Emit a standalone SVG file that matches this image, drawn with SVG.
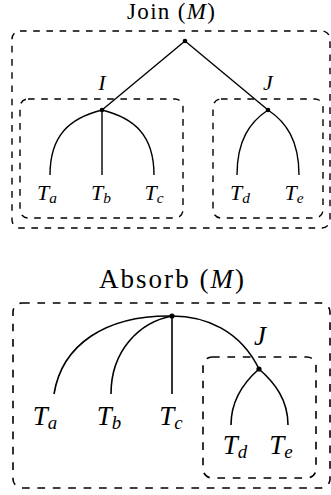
<svg xmlns="http://www.w3.org/2000/svg" width="331" height="495" viewBox="0 0 331 495">
<style>
.box1{fill:none;stroke:#000;stroke-width:1.4;stroke-dasharray:6.6 6.6}
.box2{fill:none;stroke:#000;stroke-width:1.6;stroke-dasharray:7.7 7.7}
.e1{fill:none;stroke:#000;stroke-width:1.4}
.e2{fill:none;stroke:#000;stroke-width:1.6}
.dot{fill:#000}
text{font-family:'Liberation Serif','Times New Roman',Times,'DejaVu Serif','Noto Serif',serif;fill:#000}
.it{font-style:italic;text-anchor:middle}
.sub{font-size:70%}
</style>
<g id="join">
  <text x="171" y="19" font-size="23" text-anchor="middle" textLength="88" lengthAdjust="spacing">Join (<tspan font-style="italic">M</tspan>)</text>
  <g id="join-M"><rect class="box1" x="12" y="31" width="318" height="197" rx="8"/></g>
  <g id="join-I-box"><rect class="box1" x="20" y="99" width="163" height="119" rx="8"/></g>
  <g id="join-J-box"><rect class="box1" x="213" y="99" width="110" height="119" rx="8"/></g>
  <g id="join-edges">
    <path class="e1" d="M185,41 L102,110"/>
    <path class="e1" d="M185,41 L268,110"/>
    <path class="e1" d="M102,110 C70,118 50,135 50,175"/>
    <path class="e1" d="M102,110 L102,175"/>
    <path class="e1" d="M102,110 C134,118 154,135 154,175"/>
    <path class="e1" d="M268,110 C250,122 237,140 237,175"/>
    <path class="e1" d="M268,110 C286,122 299,140 299,175"/>
  </g>
  <g id="join-root"><circle class="dot" cx="185" cy="41" r="2.3"/></g>
  <g id="join-I"><circle class="dot" cx="102" cy="110" r="2.3"/><text class="it" x="102" y="90" font-size="22">I</text></g>
  <g id="join-J"><circle class="dot" cx="268" cy="110" r="2.3"/><text class="it" x="268" y="90" font-size="22">J</text></g>
  <g id="join-Ta"><text class="it" x="47" y="200" font-size="22">T<tspan class="sub" dy="3">a</tspan></text></g>
  <g id="join-Tb"><text class="it" x="101" y="200" font-size="22">T<tspan class="sub" dy="3">b</tspan></text></g>
  <g id="join-Tc"><text class="it" x="154" y="200" font-size="22">T<tspan class="sub" dy="3">c</tspan></text></g>
  <g id="join-Td"><text class="it" x="240" y="200" font-size="22">T<tspan class="sub" dy="3">d</tspan></text></g>
  <g id="join-Te"><text class="it" x="294" y="200" font-size="22">T<tspan class="sub" dy="3">e</tspan></text></g>
</g>
<g id="absorb">
  <text x="171.5" y="288" font-size="27" text-anchor="middle" textLength="145" lengthAdjust="spacing">Absorb (<tspan font-style="italic">M</tspan>)</text>
  <g id="absorb-M"><rect class="box2" x="13" y="303" width="317" height="185" rx="9"/></g>
  <g id="absorb-J-box"><rect class="box2" x="203" y="357" width="113" height="121" rx="9"/></g>
  <g id="absorb-edges">
    <path class="e2" d="M172,316 C105,315 62,345 54,394"/>
    <path class="e2" d="M172,316 C140,322 111,350 111,394"/>
    <path class="e2" d="M172,316 L172,394"/>
    <path class="e2" d="M172,316 C205,316 240,330 259,369"/>
    <path class="e2" d="M259,369 C243,383 231,400 231,425"/>
    <path class="e2" d="M259,369 C275,383 288,400 288,425"/>
  </g>
  <g id="absorb-root"><circle class="dot" cx="172" cy="316" r="2.6"/></g>
  <g id="absorb-J"><circle class="dot" cx="259" cy="369" r="2.6"/><text class="it" x="260" y="345" font-size="27">J</text></g>
  <g id="absorb-Ta"><text class="it" x="45" y="425" font-size="27">T<tspan class="sub" dy="4">a</tspan></text></g>
  <g id="absorb-Tb"><text class="it" x="109" y="425" font-size="27">T<tspan class="sub" dy="4">b</tspan></text></g>
  <g id="absorb-Tc"><text class="it" x="171" y="425" font-size="27">T<tspan class="sub" dy="4">c</tspan></text></g>
  <g id="absorb-Td"><text class="it" x="235" y="454" font-size="27">T<tspan class="sub" dy="4">d</tspan></text></g>
  <g id="absorb-Te"><text class="it" x="281" y="454" font-size="27">T<tspan class="sub" dy="4">e</tspan></text></g>
</g>
</svg>
